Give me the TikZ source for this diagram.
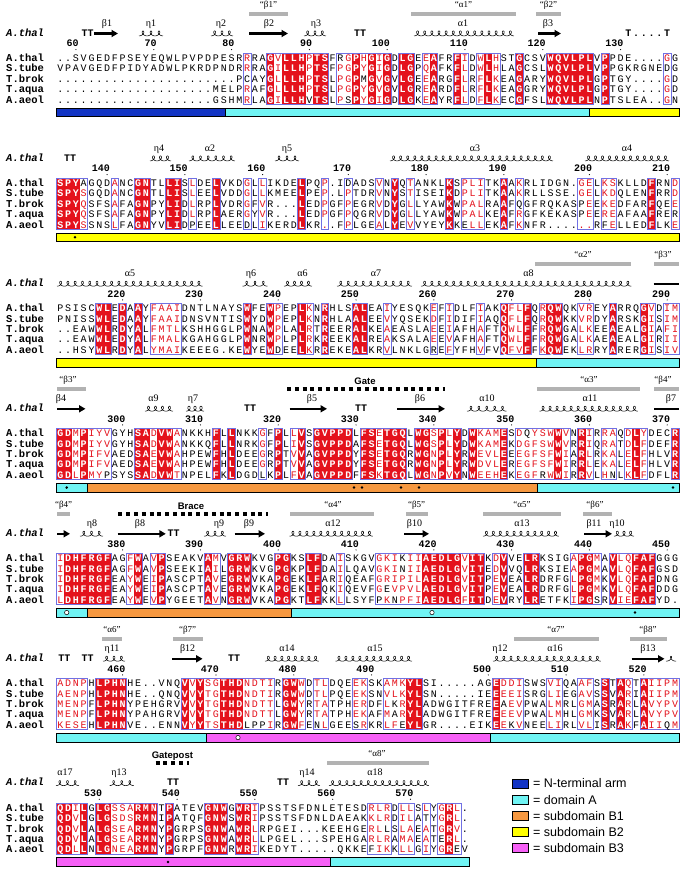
\documentclass[tikz,border=0pt]{standalone}
\usepackage{fontspec}
\setmainfont{Liberation Serif}
\setsansfont{Liberation Sans}
\setmonofont{Liberation Mono}
\usetikzlibrary{arrows.meta}
\definecolor{seqred}{RGB}{228,18,28}
\definecolor{frameblue}{RGB}{112,112,228}
\definecolor{barblue}{RGB}{18,52,196}
\definecolor{barcyan}{RGB}{112,244,244}
\definecolor{barorange}{RGB}{246,152,64}
\definecolor{baryellow}{RGB}{255,255,0}
\definecolor{barmag}{RGB}{246,96,246}
\definecolor{ssgray}{RGB}{178,178,178}
\newcommand\seqfont{\ttfamily\fontsize{10}{10}\selectfont}
\newcommand\seqfontb{\ttfamily\bfseries\fontsize{10}{10}\selectfont}
\tikzset{
  resn/.style={font=\seqfont,text=black,inner sep=0pt,anchor=base},
  resr/.style={font=\seqfont,text=seqred,inner sep=0pt,anchor=base},
  resw/.style={font=\seqfontb,text=white,inner sep=0pt,anchor=base},
  seqframe/.style={draw=frameblue,line width=0.7pt},
  rowlab/.style={font=\ttfamily\bfseries\fontsize{10.5}{10.5}\selectfont,anchor=base west,inner sep=0pt},
  symlab/.style={font=\ttfamily\bfseries\itshape\fontsize{10.5}{10.5}\selectfont,anchor=base west,inner sep=0pt},
  rulerlab/.style={font=\ttfamily\bfseries\fontsize{10}{10}\selectfont,anchor=base east,inner sep=0pt},
  ttlab/.style={font=\ttfamily\bfseries\fontsize{10}{10}\selectfont,anchor=base,inner sep=0pt},
  sslab/.style={font=\fontsize{10}{10}\selectfont,anchor=base,inner sep=0pt},
  qlab/.style={font=\fontsize{9}{9}\selectfont,anchor=base,inner sep=0pt},
  boldlab/.style={font=\sffamily\bfseries\fontsize{9.5}{9.5}\selectfont,anchor=base,inner sep=0pt},
  coil/.style={line width=0.55pt},
  strandst/.style={line width=2.2pt,-{Triangle[length=6.5pt,width=7pt]}},
  dotbar/.style={line width=4pt,dash pattern=on 4pt off 3.78pt},
  legtext/.style={font=\sffamily\fontsize{12.5}{12.5}\selectfont,anchor=west,inner sep=0pt},
  domseg/.style={draw=black,line width=0.5pt},
}
\ExplSyntaxOn
\str_new:N \l_sq_cls_str
\str_new:N \l_sq_row_str
\str_new:N \l_sq_c_str
\str_new:N \l_sq_ch_str
\int_new:N \l_sq_run_int
\int_new:N \l_sq_code_int
\tl_new:N \l_sq_xa_tl
\tl_new:N \l_sq_xb_tl
\tl_new:N \l_sq_ya_tl
\tl_new:N \l_sq_yb_tl
\cs_new_protected:Npn \sq_set_cls:n #1
  {
    \str_set:Nn \l_sq_cls_str {#1}
    \str_remove_all:Nn \l_sq_cls_str {~}
  }
\cs_new_protected:Npn \sq_frame:nnnn #1#2#3#4
  {
    \tl_set:Nx \l_sq_xa_tl { \fp_eval:n { 56.5 + 7.78 * ( (#1) - 1 ) } }
    \tl_set:Nx \l_sq_xb_tl { \fp_eval:n { 56.5 + 7.78 * (#2) } }
    \tl_set:Nx \l_sq_ya_tl { \fp_eval:n { #3 - 4.6 } }
    \tl_set:Nx \l_sq_yb_tl { \fp_eval:n { #4 + 5.0 } }
    \draw[seqframe]~(\l_sq_xa_tl,\l_sq_ya_tl)~rectangle~(\l_sq_xb_tl,\l_sq_yb_tl);
  }
\cs_new_protected:Npn \sq_redcols:nn #1#2
  {
    \int_step_inline:nn { \str_count:N \l_sq_cls_str }
      {
        \str_set:Nx \l_sq_c_str { \str_item:Nn \l_sq_cls_str {##1} }
        \str_if_eq:VnTF \l_sq_c_str { r }
          {
            \tl_set:Nx \l_sq_xa_tl { \fp_eval:n { 56.5 + 7.78 * ( ##1 - 1 ) - 0.15 } }
            \tl_set:Nx \l_sq_xb_tl { \fp_eval:n { 56.5 + 7.78 * ( ##1 ) + 0.15 } }
            \tl_set:Nx \l_sq_ya_tl { \fp_eval:n { #1 - 4.6 } }
            \tl_set:Nx \l_sq_yb_tl { \fp_eval:n { #2 + 5.0 } }
            \fill[seqred]~(\l_sq_xa_tl,\l_sq_ya_tl)~rectangle~(\l_sq_xb_tl,\l_sq_yb_tl);
          }
          { }
      }
  }
\cs_new_protected:Npn \sq_frames:nn #1#2
  {
    \int_set:Nn \l_sq_run_int { 0 }
    \int_step_inline:nn { \str_count:N \l_sq_cls_str }
      {
        \str_set:Nx \l_sq_c_str { \str_item:Nn \l_sq_cls_str {##1} }
        \str_if_eq:VnTF \l_sq_c_str { n }
          {
            \int_compare:nNnT { \l_sq_run_int } > { 0 }
              {
                \sq_frame:nnnn { \int_use:N \l_sq_run_int } { ##1 - 1 } {#1} {#2}
                \int_set:Nn \l_sq_run_int { 0 }
              }
          }
          {
            \int_compare:nNnT { \l_sq_run_int } = { 0 }
              { \int_set:Nn \l_sq_run_int { ##1 } }
          }
      }
    \int_compare:nNnT { \l_sq_run_int } > { 0 }
      { \sq_frame:nnnn { \int_use:N \l_sq_run_int } { \str_count:N \l_sq_cls_str } {#1} {#2} }
  }
\cs_new_protected:Npn \sq_row:nn #1#2
  {
    \str_set:Nn \l_sq_row_str {#2}
    \str_remove_all:Nn \l_sq_row_str {~}
    \tl_set:Nx \l_sq_ya_tl { \fp_eval:n { #1 + 3.6 } }
    \int_step_inline:nn { \str_count:N \l_sq_row_str }
      {
        \str_set:Nx \l_sq_ch_str { \str_item:Nn \l_sq_row_str {##1} }
        \str_set:Nx \l_sq_c_str { \str_item:Nn \l_sq_cls_str {##1} }
        \int_set:Nn \l_sq_code_int { \exp_after:wN ` \l_sq_ch_str }
        \tl_set:Nx \l_sq_xa_tl { \fp_eval:n { 60.39 + 7.78 * ( ##1 - 1 ) } }
        \int_compare:nNnTF { \l_sq_code_int } > { 96 }
          {
            \int_sub:Nn \l_sq_code_int { 32 }
            \node[resn]~at~(\l_sq_xa_tl,\l_sq_ya_tl)~{\char\l_sq_code_int};
          }
          {
            \str_if_eq:VnTF \l_sq_c_str { r }
              { \node[resw]~at~(\l_sq_xa_tl,\l_sq_ya_tl)~{\char\l_sq_code_int}; }
              {
                \str_if_eq:VnTF \l_sq_c_str { s }
                  { \node[resr]~at~(\l_sq_xa_tl,\l_sq_ya_tl)~{\char\l_sq_code_int}; }
                  { \node[resn]~at~(\l_sq_xa_tl,\l_sq_ya_tl)~{\char\l_sq_code_int}; }
              }
          }
      }
  }
\NewDocumentCommand \Block { m m m m m m m }
  {
    \sq_set_cls:n {#2}
    \sq_redcols:nn {#1} {#1+41.4}
    \sq_frames:nn {#1} {#1+41.4}
    \sq_row:nn {#1} {#3}
    \sq_row:nn {#1+10.35} {#4}
    \sq_row:nn {#1+20.7} {#5}
    \sq_row:nn {#1+31.05} {#6}
    \sq_row:nn {#1+41.4} {#7}
  }
\ExplSyntaxOff
\newcommand\Qbar[5]{\fill[ssgray] (#2,{#1-46.3}) rectangle (#3,{#1-42.3}); \node[qlab] at (#4,{#1-51}) {#5};}
\newcommand\SSlab[3]{\node[sslab] at (#2,{#1-32}) {#3};}
\newcommand\Helix[3]{%
  \pgfmathsetmacro\hxn{max(1,round((#3-#2)/7.2))}%
  \pgfmathsetmacro\hxq{(#3-#2)/\hxn/360}%
  \pgfmathsetmacro\hxe{180+360*\hxn}%
  \pgfmathtruncatemacro\hxs{20*\hxn+1}%
  \draw[coil] plot[domain=180:\hxe,samples=\hxs,smooth,variable=\t] ({#2+(\t-180)*\hxq-2.5*sin(\t)},{#1-24.6-2.5*cos(\t)});}
\newcommand\Strand[3]{\draw[strandst] (#2,{#1-24.5}) -- (#3,{#1-24.5});}
\newcommand\SLine[3]{\draw[line width=2.2pt] (#2,{#1-24.5}) -- (#3,{#1-24.5});}
\newcommand\TT[3]{\node[ttlab] at (#2,{#1-21.8}) {#3};}
\newcommand\DotBar[3]{\draw[dotbar] (#2,{#1-44.3}) -- (#3,{#1-44.3});}
\newcommand\BoldLab[3]{\node[boldlab] at (#2,{#1-48.9}) {#3};}
\newcommand\SymLabel[1]{\node[symlab] at (6,{#1-21.8}) {A.thal};}
\newcommand\RowLabels[1]{\foreach \nm [count=\k from 0] in {A.thal,S.tube,T.brok,T.aqua,A.aeol}{\node[rowlab] at (6,{#1+10.35*\k+3.6}) {\nm};}}
\newcommand\Ruler[2]{\foreach \n/\c in {#2}{\node[rulerlab] at ({60.39+7.78*\c+3},{#1-11.3}) {\n}; \fill ({60.39+7.78*\c},{#1-8.4}) circle (0.6);}}
\newcommand\Seg[4]{\filldraw[domseg,fill=#4] (#2,{#1+50}) rectangle (#3,{#1+58.5});}
\newcommand\BDot[2]{\fill[black] (#2,{#1+54.25}) circle (1.4);}
\newcommand\ODot[2]{\filldraw[fill=white,draw=black,line width=0.5pt] (#2,{#1+54.25}) circle (2.2);}
\begin{document}
\begin{tikzpicture}[x=1pt,y=-1pt]
\useasboundingbox (0,0) rectangle (684,870);
\fill[white] (0,0) rectangle (684,870);
% ================= Block 1
\def\BR{58}
\Qbar{\BR}{249}{288}{268.5}{“β1”}
\Qbar{\BR}{411}{516}{463.5}{“α1”}
\Qbar{\BR}{536}{561}{548.5}{“β2”}
\SSlab{\BR}{107}{β1}\SSlab{\BR}{151}{η1}\SSlab{\BR}{221}{η2}\SSlab{\BR}{269}{β2}
\SSlab{\BR}{316}{η3}\SSlab{\BR}{463}{α1}\SSlab{\BR}{548}{β3}
\SymLabel{\BR}
\TT{\BR}{87.6}{TT}\Strand{\BR}{94}{118}\Helix{\BR}{139}{163}\Helix{\BR}{211}{233}
\Strand{\BR}{249}{288}\Helix{\BR}{304}{326}\TT{\BR}{360}{TT}\Helix{\BR}{414}{514}\Strand{\BR}{538}{561}
\foreach \c/\ch in {73/T,74/.,75/.,76/.,77/.,78/T}{\node[ttlab] at ({60.39+7.78*\c},{\BR-21.8}) {\ch};}
\Ruler{\BR}{60/2,70/12,80/22,90/32,100/42,110/52,120/62,130/72}
\RowLabels{\BR}
\Block{\BR}
{nnnnnnnnnn nnnnnnnnnn nnnnsnnrsr rrsrrnssrs rsrnrrnsrn nrsnsrsnnr nnnrrrrrrn rnnnnnnnsn}
{..SVGEDFPS EYEQWLPVPD PESRRRAGVL LHPTSFrGPH GIGDLGEEAF RFIDWLHSTG CSVWQVLPLV PPDE....GG}
{VPAVGEDFPI DYADWLPKRD PNDRRRAGIL LHPTSFPGPY GIGDLGPQAF KFLDWLHLAG CSLWQVLPLV PPGKRGNEdG}
{.......... .......... ...PcAYGLL LHPTSLPGPm GVGVLGEEAR GFLRFLKEAG ARYWQVLPLG PTGY....GD}
{.......... .......... MELPRAFGLL LHPTSLPGPY GVGVLGREAR DFLRFLKEAG GRYWQVLPLG PTGY....GD}
{.......... .......... GSHMRLAGIL LHvTSLPsPY GIGDLGKEAY RFLDFLKECG FSLWQVLPLN PTSLEA..GN}
\Seg{\BR}{56.5}{225}{barblue}\Seg{\BR}{225}{589}{barcyan}\Seg{\BR}{589}{678.9}{baryellow}
% ================= Block 2
\def\BR{183}
\SSlab{\BR}{159}{η4}\SSlab{\BR}{210}{α2}\SSlab{\BR}{287}{η5}\SSlab{\BR}{475}{α3}\SSlab{\BR}{627}{α4}
\SymLabel{\BR}
\TT{\BR}{70}{TT}\Helix{\BR}{150}{171}\Helix{\BR}{189}{235}\Helix{\BR}{275}{299}\Helix{\BR}{390}{553}\Helix{\BR}{585}{669}
\Ruler{\BR}{140/6,150/16,160/26,170/37,180/47,190/57,200/68,210/78}
\RowLabels{\BR}
\Block{\BR}
{rrrsnnnsnn rrnnrrnsnn rnnnsnsnnn nrnnsnnsnn nsnrnsnnnn rnsssnnrns nnnnnnnssn ssnnnnrnns}
{SPYaGQDANC GNTLLISLDE LVKDGLLIKD ELPQP.IdAD SVNYQTANKL KSPLITKAAK RLIDGN.GEL KSKLLDFRND}
{SPYSGQDANC GNTLLISLEE LVDDGLLKME ELPEP.LPTD RVNYSTISEI KDPLITKAAK RLLSSE.GEL KDQLENFRRD}
{SPYQSFSAFA GNPYLIDLRP LVDRGFVR.. .LEDPGFPEG RVDYGLLYAW KWPALRAAFq GFRQKASpEE KEDFARFQEE}
{SPYQSFSAFA GNPYLIDLRP LAERGYVR.. .LEDPGFPQG RVDYGLLYAW KWPALKEAFR GFKEKASpEE REAFAAFREr}
{SPYSSNSLFA GNYVLIDpEE LLEEdLIKER DLKR..FPLG EALYEVVYEY KKeLLEKAFK NFR......R fELLEDFLKE}
\Seg{\BR}{56.5}{678.9}{baryellow}\BDot{\BR}{75}
% ================= Block 3
\def\BR{308.3}
\Qbar{\BR}{535}{631}{583}{“α2”}
\Qbar{\BR}{653.5}{678.9}{663}{“β3”}
\SSlab{\BR}{130}{α5}\SSlab{\BR}{251}{η6}\SSlab{\BR}{302.6}{α6}\SSlab{\BR}{376}{α7}\SSlab{\BR}{528.5}{α8}
\SymLabel{\BR}
\Helix{\BR}{57}{202.6}\Helix{\BR}{242.5}{267.5}\Helix{\BR}{284}{312}\Helix{\BR}{337}{412}\Helix{\BR}{421}{631.5}\SLine{\BR}{653.5}{678.9}
\Ruler{\BR}{220/8,230/18,240/28,250/38,260/48,270/58,280/68,290/78}
\RowLabels{\BR}
\Block{\BR}
{nnnnnrrnrn rnssssnnnn nnnnrnnrsn nrsnrnnnrr nnsnnnnnsn snnnsnnrss rnsrrnnssn nrnnnrsnss}
{PSISCWLEDA AYFAAIDNTL NAYSWFEWPE PLKNRHLSAL EAIYESQKEF IDLFIAKQFL FQRQWQKVRE YARRQGVDIM}
{PNISSWLEDA AYFAAIDNSV NTISWYDWPE PLKNRHLAAL EEVYQSEKDF IDIFIAQQFL FQRQWKKVRD YARSKGISIM}
{..EAWWLRDY ALFMTLKSHH GGLPWNAWPL ALRTREERAL KEAEASLAEE IAFHAFTQWL FFRQWGALKE EAEALGIAFI}
{..EAWWLEDY ALFMALKGAH GGLPWNRWPL PLRKREEKAL REAKSALAEE VAFHAFTQWL FFRQWGALKA EAEALGIRII}
{..HSYWLRDY ALYMAIKEEE G.KEWYEWdE ELKRREKEAL KRVLNKLGrE FYFHVFVQFV FFKQWEKLRR YARERGISIV}
\Seg{\BR}{56.5}{536}{baryellow}\Seg{\BR}{536}{678.9}{barcyan}
% ================= Block 4
\def\BR{433.3}
\Qbar{\BR}{56.5}{85.5}{68}{“β3”}
\Qbar{\BR}{537}{639.5}{589}{“α3”}
\Qbar{\BR}{653.5}{678.9}{663}{“β4”}
\BoldLab{\BR}{365}{Gate}\DotBar{\BR}{287}{445}
\SSlab{\BR}{61}{β4}\SSlab{\BR}{153.5}{α9}\SSlab{\BR}{193}{η7}\SSlab{\BR}{312}{β5}\SSlab{\BR}{420}{β6}
\SSlab{\BR}{487}{α10}\SSlab{\BR}{590}{α11}\SSlab{\BR}{671}{β7}
\SymLabel{\BR}
\Strand{\BR}{57}{85.5}\Helix{\BR}{145}{173}\Helix{\BR}{186}{204}\TT{\BR}{250}{TT}\Strand{\BR}{289.5}{327}
\TT{\BR}{361}{TT}\Strand{\BR}{397}{445}\Helix{\BR}{467}{506.5}\Helix{\BR}{539.5}{638}\SLine{\BR}{654}{678.9}
\Ruler{\BR}{300/8,310/18,320/28,330/38,340/48,350/58,360/68,370/78}
\RowLabels{\BR}
\Block{\BR}
{rrsrsssnnn rrsrrsnnnn rnrnnnsnrn srnrrrrrnr rsrrrnrrsr srnrsssrns ssssrsnrsn ssnsrsnnnr}
{GDMPIYVGYH SADVWANKKH FLLNKKGFPL LVSGVPPDLF SETGQLWGSP LYDWKAMESD qYSWWVNRIR RAQDLYDECR}
{GDMPIYVGYH SADVWANKKQ FLLNRKGFPL IVSGVPPDAF SETGQLWGSP LYDWKAMEKD GFSWWVRRIQ RATDLFDEFR}
{GDMPIFVAED SAEVWAHPEW FHLDEEGRPT VVAGVPPDYF SETGQRWGNP LYRWEVLEEE GFSFWIARLR KALELFHLVR}
{GDMPIFVAED SAEVWAHPEW FHLDEEGRPT VVAGVPPDYF SETGQRWGNP LYRWDVLERE GFSFWIRRLE KALELFHLVR}
{GDLPMYpSYS SADVWTNPEL FKLDGDlKPL FVAGVPPDFF SKTGQLWGNP VYNWEEHEKE GFrWWIRRVL HnLKLFDFLR}
\Seg{\BR}{56.5}{87.7}{barcyan}\Seg{\BR}{87.7}{537}{barorange}\Seg{\BR}{537}{678.9}{barcyan}
\BDot{\BR}{66.7}\BDot{\BR}{354}\BDot{\BR}{362}\BDot{\BR}{401}\BDot{\BR}{419}\BDot{\BR}{673}
% ================= Block 5
\def\BR{558.3}
\Qbar{\BR}{56.5}{70}{63.6}{“β4”}
\Qbar{\BR}{290}{373.7}{333}{“α4”}
\Qbar{\BR}{405.7}{427.6}{416.7}{“β5”}
\Qbar{\BR}{482.5}{560.5}{522}{“α5”}
\Qbar{\BR}{583}{612}{595}{“β6”}
\BoldLab{\BR}{191}{Brace}\DotBar{\BR}{118.4}{267.5}
\SSlab{\BR}{92}{η8}\SSlab{\BR}{140}{β8}\SSlab{\BR}{219}{η9}\SSlab{\BR}{249}{β9}\SSlab{\BR}{333}{α12}
\SSlab{\BR}{414.5}{β10}\SSlab{\BR}{522}{α13}\SSlab{\BR}{594}{β11}\SSlab{\BR}{617}{η10}
\SymLabel{\BR}
\Strand{\BR}{57}{70}\Helix{\BR}{80}{103}\Strand{\BR}{117.5}{165.8}\TT{\BR}{173.5}{TT}\Helix{\BR}{204}{226}
\Strand{\BR}{234.6}{265}\Helix{\BR}{289.5}{373}\Strand{\BR}{404}{429}\Helix{\BR}{483}{559}\Strand{\BR}{584}{612}\Helix{\BR}{614}{634}
\Ruler{\BR}{380/8,390/18,400/28,410/38,420/48,430/58,440/68,450/78}
\RowLabels{\BR}
\Block{\BR}
{srrrrrrnns rnsrnnnnnr snrrrnnnrr nnrrnnsnnn nssssssrrr rrsrrnsrnn rrnnnnsrrs nrssrrrnnn}
{IDHFRGFAGF WAVPSEAKVA MVGRWKVGPG KSLFDAISKG VGKIkIIAED LGVITKDVVE LRKSIGAPGM AVLQFAFGGG}
{IDHFRGFAGF WAVPSEEKIA ILGRWKVGPG KPLFDAILQA VGKInIIAED LGVITEDVVQ LRKSIEAPGM AVLQFAFGSD}
{IDHFRGFEAY WEIPASCPTA VEGRWVKAPG EKLFARIQEA FGRIPILAED LGVITPEVEA LRDRFGLPGM KVLQFAFDNG}
{IDHFRGFEAY WEIPASCPTA VEGRWVKAPG EKLFQKIQEV FGeVPVLAED LGVITPEVEA LRDRFGLPGM KVLQFAFDDG}
{LDHFRGFEAY WEVPYGEETA VNGRWVKAPG KTLFKKLLSY FpKnPFIAED LGFITDEVRY LRETFKIPGs RVIEFAFYD.}
\Seg{\BR}{56.5}{87.7}{barcyan}\Seg{\BR}{87.7}{291.7}{barorange}\Seg{\BR}{291.7}{678.9}{barcyan}
\ODot{\BR}{66.7}\ODot{\BR}{432}\BDot{\BR}{635}
% ================= Block 6
\def\BR{683.3}
\Qbar{\BR}{101.8}{122}{112}{“α6”}
\Qbar{\BR}{173}{202.6}{187.7}{“β7”}
\Qbar{\BR}{514}{598.7}{556}{“α7”}
\Qbar{\BR}{630}{666.7}{648}{“β8”}
\SSlab{\BR}{112}{η11}\SSlab{\BR}{187.7}{β12}\SSlab{\BR}{287}{α14}\SSlab{\BR}{375}{α15}
\SSlab{\BR}{500}{η12}\SSlab{\BR}{555}{α16}\SSlab{\BR}{648}{β13}
\SymLabel{\BR}
\TT{\BR}{64.3}{TT}\TT{\BR}{87.6}{TT}\Helix{\BR}{103}{125}\Strand{\BR}{172}{202.6}\TT{\BR}{234}{TT}
\Helix{\BR}{265}{319}\Helix{\BR}{335.5}{412}\Helix{\BR}{493}{601}\Strand{\BR}{631.6}{664.5}\Helix{\BR}{666}{676}
\Ruler{\BR}{460/8,470/20,480/30,490/40,500/55,510/65,520/75}
\RowLabels{\BR}
\Block{\BR}
{ssssnrrrrn nnnnnnrsrs srrrssssnr rsnssnnnss nnsssrrnnn nnnnnnrsss nnnssnnssn rnrsnrssss}
{ADNPHLPHNH E..VNQVVYS GTHDNDTIRG WWDTLDQEEK SKAMKYLSI. ....AGEDDI SWSVIQAAFS STAQTAIIPM}
{AENPHLPHNH E..QNQVVYT GTHDNDTIRG WWDTLPQEEK SNVLKYLSN. ....IEEEEI SRGLIEGAVS SVARIAIIPM}
{MENPFLPHNY PEHGRVVVYT GTHDNDTTLG WYRTATPHER DFLkRYLADW GITFREEaEV PWALMRLGMA SRARLAVYPV}
{MENPFLPHNY PAHGRVVVYT GTHDNDTTLG WYRTATPHEK AFMaRYLADW GITFREEEEV PWALMHLGMK SVARLAVYPV}
{KESEHLPHNV E..ENNVYYT STHDlppIRG WFEnLGEEsR KRLFeYLGR. ...EIKEEkV NEELIRLVLI SRAKFAIIqM}
\Seg{\BR}{56.5}{206}{barcyan}\Seg{\BR}{206}{490}{barmag}\Seg{\BR}{490}{678.9}{barcyan}
\ODot{\BR}{238}
% ================= Block 7
\def\BR{807.7}
\BoldLab{\BR}{172.4}{Gatepost}\DotBar{\BR}{155.7}{188.6}
\Qbar{\BR}{326.8}{429}{377}{“α8”}
\SSlab{\BR}{65}{α17}\SSlab{\BR}{119}{η13}\SSlab{\BR}{307}{η14}\SSlab{\BR}{375}{α18}
\SymLabel{\BR}
\Helix{\BR}{56}{79}\Helix{\BR}{109.6}{133.8}\TT{\BR}{173}{TT}\TT{\BR}{283}{TT}\Helix{\BR}{298}{320}\Helix{\BR}{329}{429}
\Ruler{\BR}{530/5,540/15,550/25,560/35,570/45}
\RowLabels{\BR}
\Block{\BR}
{rrsrnrrsss rrrnrnnnnr rrnrrsnnnn nnnnnnnnnn sssnssnsns rsn}
{QDILGLGSSA RMNTPATEVG NWGWRIPSST SFDNLETESD RLRDLLSLYG RL.}
{QDVLGLGSDS RMNIPATQFG NWSWRIPSST SFDNLDAEAK KLRDILAtYG RL.}
{QDVLALGSEA RMNYPGRPSG NWAWRLRPGE I...KEEHGE RLlSLAEATG RV.}
{QDVLALGSEA RMNYPGRPSG NWAWRLLPGE L...SPEHGA RLRAMAEATe RL.}
{QDLLNLGNEA RMNYPGRPFG NWRWRIKEDY T.....QKKE fIKKLLGIYG ReV}
\Seg{\BR}{56.5}{330}{barmag}\Seg{\BR}{330}{468.8}{barcyan}
\BDot{\BR}{168}
% ================= Legend
\foreach \cl/\tx [count=\i from 0] in {barblue/N-terminal arm,barcyan/domain A,barorange/subdomain B1,baryellow/subdomain B2,barmag/subdomain B3}{
  \filldraw[domseg,fill=\cl] (512,{783.5+16.05*\i-4.25}) rectangle (528.5,{783.5+16.05*\i+4.25});
  \node[legtext] (leg\i) at (533,{783.5+16.05*\i}) {= \tx};
}
\end{tikzpicture}
\end{document}
